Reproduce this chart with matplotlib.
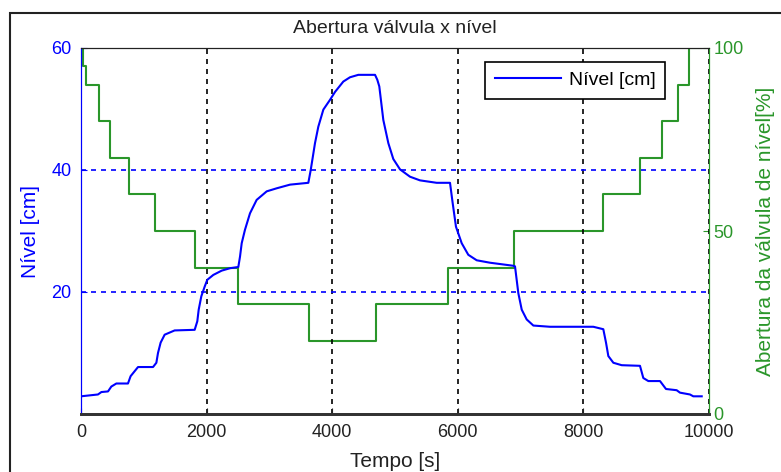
import matplotlib
matplotlib.use('Agg')
import matplotlib.pyplot as plt
from matplotlib.patches import Rectangle

plt.rcParams['font.family'] = 'Liberation Sans'
plt.rcParams['font.size'] = 13

# nivel do tanque [cm]
tempo_nivel = [0, 270, 325, 430, 483, 563, 748, 790, 908, 1147, 1200, 1226, 1268,
               1332, 1491, 1810, 1852, 1874, 1916, 1970, 2011, 2107, 2240, 2373,
               2505, 2532, 2559, 2611, 2691, 2797, 2957, 3116, 3328, 3620, 3658,
               3689, 3726, 3779, 3859, 3965, 4045, 4177, 4283, 4416, 4682, 4718,
               4750, 4814, 4894, 4973, 5080, 5239, 5398, 5664, 5876, 5918, 5971,
               6062, 6167, 6301, 6513, 6884, 6911, 6964, 7018, 7097, 7203, 7468,
               8158, 8317, 8360, 8397, 8477, 8610, 8901, 8954, 9034, 9220, 9315,
               9485, 9538, 9697, 9750, 9884]
nivel = [2.9, 3.2, 3.6, 3.7, 4.5, 5.0, 5.0, 6.2, 7.7, 7.7, 8.4, 10.0, 11.7,
         13.0, 13.7, 13.8, 15.2, 17.1, 19.3, 20.9, 22.0, 22.8, 23.5, 23.9,
         24.1, 25.8, 28.0, 30.2, 32.9, 35.1, 36.5, 37.0, 37.6, 37.9, 40.0,
         42.0, 44.4, 47.1, 49.9, 51.5, 52.8, 54.5, 55.2, 55.6, 55.6, 54.8,
         53.7, 48.2, 44.4, 41.8, 40.1, 38.9, 38.3, 37.9, 37.9, 34.6, 30.7,
         28.0, 26.1, 25.2, 24.8, 24.3, 24.2, 19.8, 17.1, 15.5, 14.5, 14.3,
         14.3, 13.9, 11.7, 9.5, 8.4, 8.0, 7.9, 5.9, 5.4, 5.4, 4.1,
         3.9, 3.5, 3.2, 2.9, 2.9]

# abertura da valvula [%]
tempo_valvula = [0, 30, 80, 287, 462, 770, 1178, 1815, 2495, 3631, 4697,
                 5849, 6900, 8317, 8901, 9246, 9501, 9682, 9880]
abertura = [100, 95, 90, 80, 70, 60, 50, 40, 30, 20, 30,
            40, 50, 60, 70, 80, 90, 100, 100]

azul = '#0000ff'
verde = '#2a962a'

fig = plt.figure(figsize=(7.81, 4.72), dpi=100)
fig.set_facecolor('white')
fig.patches.append(Rectangle((10 / 781, -0.1), 1.0, 1.1 - 13 / 472,
                             transform=fig.transFigure, fill=False,
                             edgecolor='#222222', lw=1.5))

ax = fig.add_axes([81 / 781, 1 - 414 / 472, 628 / 781, 366 / 472])
ax2 = ax.twinx()
ax.set_zorder(ax2.get_zorder() + 1)
ax.patch.set_visible(False)

ax2.step(tempo_valvula, abertura, where='post', color=verde, lw=1.5)
linha, = ax.plot(tempo_nivel, nivel, color=azul, lw=1.5, label='Nível [cm]')

ax.set_xlim(0, 10000)
ax.set_ylim(0, 60)
ax.set_xticks([0, 2000, 4000, 6000, 8000, 10000])
ax.set_yticks([20, 40, 60])
ax2.set_ylim(0, 100)
ax2.set_yticks([0, 50, 100])

ax.xaxis.grid(True, color='black', linestyle=(0, (3, 3)), lw=1.2)
ax.yaxis.grid(True, color=azul, linestyle=(0, (3, 3)), lw=1.2)

ax.tick_params(axis='x', direction='in', length=4, pad=7, colors='#222222')
ax.tick_params(axis='y', direction='in', length=4, pad=7, colors=azul)
ax2.tick_params(axis='y', direction='in', length=4, pad=3, colors=verde)

for a in (ax, ax2):
    a.spines['top'].set_color('#222222')
    a.spines['bottom'].set_color('#333333')
    a.spines['bottom'].set_linewidth(2)
ax2.spines['left'].set_color(azul)
ax2.spines['right'].set_color(verde)
ax.spines['left'].set_color(azul)
ax.spines['right'].set_color(verde)

ax.set_title('Abertura válvula x nível', color='#222222', fontsize=14, pad=11)
ax.set_xlabel('Tempo [s]', color='#222222', fontsize=15, labelpad=8)
ax.set_ylabel('Nível [cm]', color=azul, fontsize=15, labelpad=8)
ax2.set_ylabel('Abertura da válvula de nível[%]', color=verde, fontsize=15,
               labelpad=9)

leg = ax.legend(handles=[linha], loc='upper right', bbox_to_anchor=(0.93, 0.962),
                borderaxespad=0, fancybox=False, edgecolor='black', framealpha=1,
                handlelength=3.4, handletextpad=0.4, borderpad=0.5, fontsize=14)
leg.get_frame().set_linewidth(1.2)

plt.savefig('out.png', dpi=100)
